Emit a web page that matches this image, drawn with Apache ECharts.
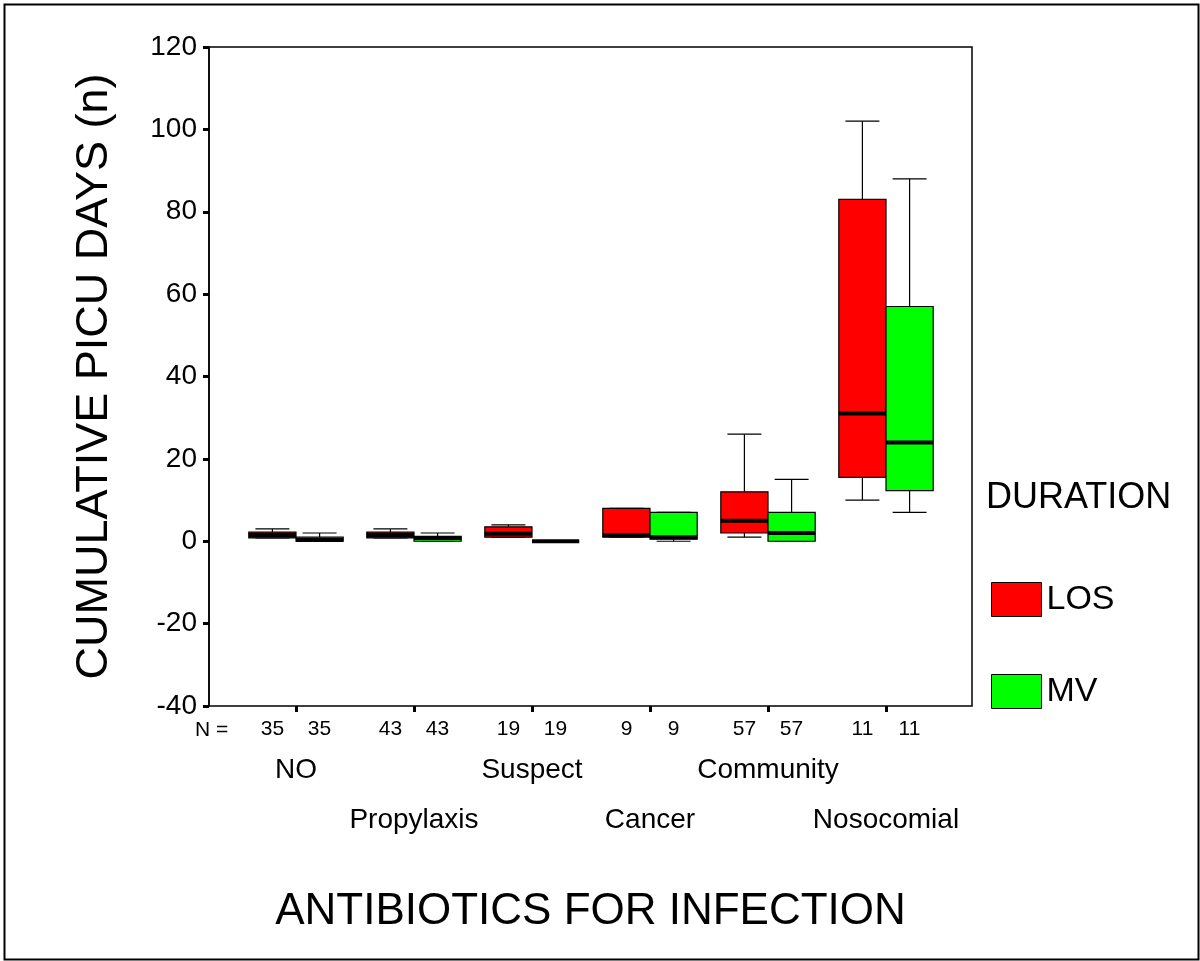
<!DOCTYPE html>
<html>
<head>
<meta charset="utf-8">
<script src="https://cdn.jsdelivr.net/npm/echarts@6/dist/echarts.min.js"></script>
<style>
html,body{margin:0;padding:0;background:#fff;}
#chart{width:1200px;height:961px;}
</style>
</head>
<body>
<div id="chart"></div>
<script>
// Categories (groups)
const categories = ['NO', 'Propylaxis', 'Suspect', 'Cancer', 'Community', 'Nosocomial'];
// Sample sizes
const nLos = [35, 43, 19, 9, 57, 11];
const nMv = [35, 43, 19, 9, 57, 11];
// Box stats: [min, Q1, median, Q3, max]
const losStats = [
  [0.8, 0.8, 1.5, 2.2, 3],
  [0.8, 0.8, 1.5, 2.2, 3],
  [1, 1, 1.8, 3.5, 4],
  [1, 1, 1.5, 8, 8],
  [1, 2, 5, 12, 26],
  [10, 15.5, 31, 83, 102]
];
const mvStats = [
  [0, 0, 0.3, 1, 2],
  [0, 0, 0.8, 1.2, 2],
  [0, 0, 0, 0, 0],
  [0, 0.5, 1, 7, 7],
  [0, 0, 2, 7, 15],
  [7, 12.3, 24, 57, 88]
];
const yTicks = { min: -40, max: 120, interval: 20 };
const seriesNames = ['LOS', 'MV'];
const seriesColors = ['#ff0000', '#00ff00'];

const chart = echarts.init(document.getElementById('chart'));
const FONT = '"Liberation Sans", Arial, sans-serif';

function makeRender(side) {
  return function (params, api) {
    const xi = api.value(0);
    const vMin = api.value(1), q1 = api.value(2), med = api.value(3), q3 = api.value(4), vMax = api.value(5);
    const base = api.coord([xi, 0]);
    const band = api.size([1, 0])[0];
    const bw = band * 0.4;
    const x0 = side < 0 ? base[0] - bw : base[0];
    const cx = x0 + bw / 2;
    const cap = bw * 0.72;
    const yMin = api.coord([xi, vMin])[1];
    const yQ1 = api.coord([xi, q1])[1];
    const yMed = api.coord([xi, med])[1];
    const yQ3 = api.coord([xi, q3])[1];
    const yMax = api.coord([xi, vMax])[1];
    const color = api.visual('color');
    const line = (x1, y1, x2, y2, w) => ({
      type: 'line',
      shape: { x1, y1, x2, y2 },
      style: { stroke: '#000', lineWidth: w || 1.2 }
    });
    return {
      type: 'group',
      children: [
        line(cx, yMax, cx, yQ3),
        line(cx - cap / 2, yMax, cx + cap / 2, yMax),
        line(cx, yQ1, cx, yMin),
        line(cx - cap / 2, yMin, cx + cap / 2, yMin),
        {
          type: 'rect',
          shape: { x: x0, y: yQ3, width: bw, height: yQ1 - yQ3 },
          style: { fill: color, stroke: '#000', lineWidth: 1.2 }
        },
        line(x0, yMed, x0 + bw, yMed, 4)
      ]
    };
  };
}

function toData(stats) {
  return stats.map((s, i) => [i].concat(s));
}

const catAxisBase = {
  type: 'category',
  gridIndex: 1,
  data: categories,
  position: 'bottom',
  boundaryGap: true,
  axisLine: { show: false, onZero: false },
  axisTick: { show: false },
  splitLine: { show: false }
};

const option = {
  backgroundColor: '#fff',
  animation: false,
  textStyle: { fontFamily: FONT },
  grid: [
    { left: 209, top: 47, width: 763, height: 659, show: true, borderColor: '#000', borderWidth: 1.5, backgroundColor: 'transparent' },
    { left: 237, top: 47, width: 708, height: 659 }
  ],
  xAxis: [
    {
      type: 'value', gridIndex: 0, min: 0, max: 1,
      axisLine: { show: false, onZero: false }, axisTick: { show: false }, axisLabel: { show: false }, splitLine: { show: false },
      name: 'ANTIBIOTICS FOR INFECTION', nameLocation: 'middle', nameGap: 184,
      nameTextStyle: { fontSize: 44, color: '#000', fontFamily: FONT, verticalAlign: 'top' }
    },
    Object.assign({}, catAxisBase, {
      axisTick: { show: true, alignWithLabel: true, interval: 0, length: 6, lineStyle: { color: '#000', width: 3 } },
      axisLabel: {
        interval: 0, margin: 13, fontSize: 21, color: '#000', fontFamily: FONT, padding: [0, 47, 0, 0],
        formatter: (v, i) => String(nLos[i])
      }
    }),
    Object.assign({}, catAxisBase, {
      axisLabel: {
        interval: 0, margin: 13, fontSize: 21, color: '#000', fontFamily: FONT, padding: [0, 0, 0, 47],
        formatter: (v, i) => String(nMv[i])
      }
    }),
    Object.assign({}, catAxisBase, {
      axisLabel: {
        interval: 0, margin: 50, fontSize: 28, color: '#000', fontFamily: FONT,
        formatter: (v, i) => (i % 2 === 0 ? v : '')
      }
    }),
    Object.assign({}, catAxisBase, {
      axisLabel: {
        interval: 0, margin: 100, fontSize: 28, color: '#000', fontFamily: FONT,
        formatter: (v, i) => (i % 2 === 1 ? v : '')
      }
    })
  ],
  yAxis: [
    {
      type: 'value', gridIndex: 0, min: yTicks.min, max: yTicks.max, interval: yTicks.interval,
      axisLine: { show: true, onZero: false, lineStyle: { color: '#000', width: 1.5 } },
      axisTick: { show: true, length: 6, lineStyle: { color: '#000', width: 3 } },
      axisLabel: { margin: 12, fontSize: 28, color: '#000', fontFamily: FONT },
      splitLine: { show: false },
      name: 'CUMULATIVE PICU DAYS (n)', nameLocation: 'middle', nameGap: 92,
      nameTextStyle: { fontSize: 45, color: '#000', fontFamily: FONT }
    },
    {
      type: 'value', gridIndex: 1, min: yTicks.min, max: yTicks.max, interval: yTicks.interval,
      show: false
    }
  ],
  legend: {
    orient: 'vertical',
    left: 991, top: 582, padding: 0,
    itemWidth: 50, itemHeight: 34, itemGap: 57,
    textStyle: { fontSize: 34, color: '#000', fontFamily: FONT },
    itemStyle: { borderColor: '#000', borderWidth: 1 },
    data: seriesNames.map(n => ({ name: n, icon: 'rect' }))
  },
  graphic: [
    {
      type: 'text', left: 986, top: 480,
      style: { text: 'DURATION', fontSize: 36, fill: '#000', fontFamily: FONT }
    },
    {
      type: 'text', left: 195, top: 720,
      style: { text: 'N =', fontSize: 21, fill: '#000', fontFamily: FONT }
    },
    {
      type: 'rect', left: 2, top: 2, silent: true,
      shape: { width: 1194, height: 955 },
      style: { fill: 'none', stroke: '#000', lineWidth: 2 }
    }
  ],
  series: [
    {
      name: seriesNames[0], type: 'custom', xAxisIndex: 1, yAxisIndex: 1,
      itemStyle: { color: seriesColors[0] },
      renderItem: makeRender(-1),
      encode: { x: 0, y: [1, 2, 3, 4, 5] },
      data: toData(losStats)
    },
    {
      name: seriesNames[1], type: 'custom', xAxisIndex: 1, yAxisIndex: 1,
      itemStyle: { color: seriesColors[1] },
      renderItem: makeRender(1),
      encode: { x: 0, y: [1, 2, 3, 4, 5] },
      data: toData(mvStats)
    }
  ]
};
chart.setOption(option);
</script>
</body>
</html>
